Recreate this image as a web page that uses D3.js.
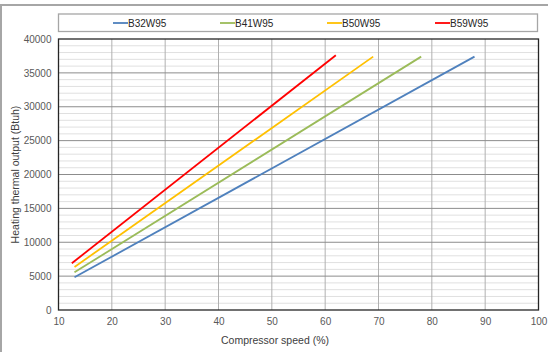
<!DOCTYPE html>
<html><head><meta charset="utf-8">
<script src="https://cdn.jsdelivr.net/npm/d3@7"></script>
<style>body{margin:0;background:#fff;}svg{display:block;font-family:"Liberation Sans",Arial,sans-serif;}</style>
</head><body>
<svg id="c" width="548" height="352"></svg>
<script>
const seriesNames = ["B32W95","B41W95","B50W95","B59W95"];
const seriesColors = ["#4F81BD","#9BBB59","#FFC000","#FF0000"];
const speedStart = [13, 13, 13, 12.5];
const speedEnd = [88, 78, 69, 62];
const outputStart = [4830, 5560, 6350, 6900];
const outputEnd = [37400, 37400, 37400, 37600];
const xTicks = [10,20,30,40,50,60,70,80,90,100];
const yTicks = [0,5000,10000,15000,20000,25000,30000,35000,40000];

const svg = d3.select("#c");
const L = 58.5, R = 538.5, T = 39, B = 310;
const x = d3.scaleLinear().domain([10,100]).range([L,R]);
const y = d3.scaleLinear().domain([0,40000]).range([B,T]);

// outer border
svg.append("rect").attr("x",1).attr("y",5).attr("width",560).attr("height",360)
  .attr("fill","none").attr("stroke","#a6a6a6").attr("stroke-width",2);

// minor gridlines
const minor = d3.range(1000,40000,1000).filter(v=>v%5000!==0);
svg.append("g").selectAll("line").data(minor).join("line")
  .attr("x1",L).attr("x2",R).attr("y1",d=>y(d)).attr("y2",d=>y(d))
  .attr("stroke","#e0e0e0").attr("stroke-width",1);
// vertical gridlines
svg.append("g").selectAll("line").data(xTicks.slice(1,-1)).join("line")
  .attr("x1",d=>x(d)).attr("x2",d=>x(d)).attr("y1",T).attr("y2",B)
  .attr("stroke","#b0b0b0").attr("stroke-width",1);
// major horizontal
svg.append("g").selectAll("line").data(yTicks.slice(1,-1)).join("line")
  .attr("x1",L).attr("x2",R).attr("y1",d=>y(d)).attr("y2",d=>y(d))
  .attr("stroke","#8c8c8c").attr("stroke-width",1);

// plot border
svg.append("rect").attr("x",L).attr("y",T).attr("width",R-L).attr("height",B-T)
  .attr("fill","none").attr("stroke","#262626").attr("stroke-width",1.3);

// axes
const xa = svg.append("g").attr("transform",`translate(0,${B})`)
  .call(d3.axisBottom(x).tickValues(xTicks).tickSize(0).tickPadding(8));
xa.select(".domain").remove();
xa.selectAll("text").attr("fill","#595959").attr("font-size","10px").attr("font-family","Liberation Sans, Arial, sans-serif");
const ya = svg.append("g").attr("transform",`translate(${L},0)`)
  .call(d3.axisLeft(y).tickValues(yTicks).tickSize(0).tickPadding(7).tickFormat(d3.format("d")));
ya.select(".domain").remove();
ya.selectAll("text").attr("fill","#595959").attr("font-size","10px").attr("font-family","Liberation Sans, Arial, sans-serif");

// titles
svg.append("text").attr("x",275).attr("y",344).attr("text-anchor","middle")
  .attr("font-size","10.5px").attr("fill","#404040").text("Compressor speed (%)");
svg.append("text").attr("transform",`translate(19,${(T+B)/2}) rotate(-90)`).attr("text-anchor","middle")
  .attr("font-size","10.5px").attr("fill","#404040").text("Heating thermal output (Btuh)");

// lines
const line = d3.line().x(d=>x(d[0])).y(d=>y(d[1]));
seriesNames.forEach((n,i)=>{
  svg.append("path").datum([[speedStart[i],outputStart[i]],[speedEnd[i],outputEnd[i]]])
    .attr("d",line).attr("fill","none").attr("stroke",seriesColors[i]).attr("stroke-width",1.8);
});

// legend
svg.append("rect").attr("x",58.5).attr("y",14).attr("width",479).attr("height",17.5)
  .attr("fill","#fff").attr("stroke","#a6a6a6").attr("stroke-width",1.3);
const legX = [113, 220, 327, 435];
seriesNames.forEach((n,i)=>{
  svg.append("line").attr("x1",legX[i]).attr("x2",legX[i]+15).attr("y1",23).attr("y2",23)
    .attr("stroke",seriesColors[i]).attr("stroke-width",1.8);
  svg.append("text").attr("x",legX[i]+15).attr("y",26.5).attr("font-size","10px").attr("fill","#262626").text(n);
});
</script>
</body></html>
